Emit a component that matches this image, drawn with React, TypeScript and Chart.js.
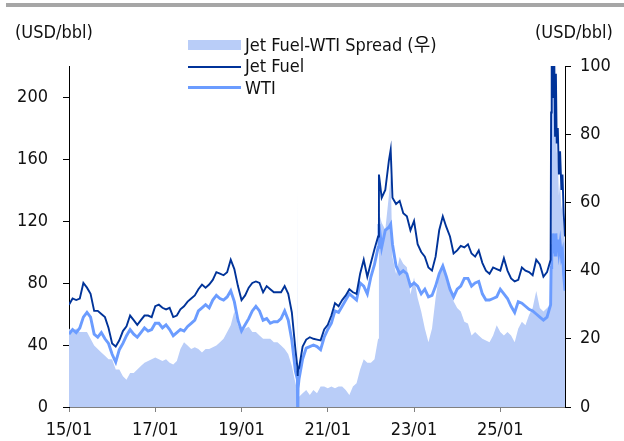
import React, { useEffect, useRef } from "react";
import { Chart, registerables } from "chart.js";

Chart.register(...registerables);

// ---- data ----
const dates: string[] = [
  "2015-01", "2015-02", "2015-03", "2015-04", "2015-05", "2015-06", "2015-07", "2015-08", "2015-09", "2015-10", "2015-11", "2015-12",
  "2016-01", "2016-02", "2016-03", "2016-04", "2016-05", "2016-06", "2016-07", "2016-08", "2016-09", "2016-10", "2016-11", "2016-12",
  "2017-01", "2017-02", "2017-03", "2017-04", "2017-05", "2017-06", "2017-07", "2017-08", "2017-09", "2017-10", "2017-11", "2017-12",
  "2018-01", "2018-02", "2018-03", "2018-04", "2018-05", "2018-06", "2018-07", "2018-08", "2018-09", "2018-10", "2018-11", "2018-12",
  "2019-01", "2019-02", "2019-03", "2019-04", "2019-05", "2019-06", "2019-07", "2019-08", "2019-09", "2019-10", "2019-11", "2019-12",
  "2020-01", "2020-02", "2020-03", "2020-04", "2020-04-17", "2020-04-20", "2020-04-23", "2020-05", "2020-06", "2020-07", "2020-08", "2020-09", "2020-10", "2020-11", "2020-12",
  "2021-01", "2021-02", "2021-03", "2021-04", "2021-05", "2021-06", "2021-07", "2021-08", "2021-09", "2021-10", "2021-11", "2021-12",
  "2022-01", "2022-02", "2022-03", "2022-03-08", "2022-04", "2022-05", "2022-06", "2022-06-16", "2022-07", "2022-08", "2022-09", "2022-10", "2022-11", "2022-12",
  "2023-01", "2023-02", "2023-03", "2023-04", "2023-05", "2023-06", "2023-07", "2023-08", "2023-09", "2023-10", "2023-11", "2023-12",
  "2024-01", "2024-02", "2024-03", "2024-04", "2024-05", "2024-06", "2024-07", "2024-08", "2024-09", "2024-10", "2024-11", "2024-12",
  "2025-01", "2025-02", "2025-03", "2025-04", "2025-05", "2025-06", "2025-07", "2025-08", "2025-09", "2025-10", "2025-11", "2025-12",
  "2026-01", "2026-02", "2026-03", "2026-03-05", "2026-03-10", "2026-03-15", "2026-03-20", "2026-03-25", "2026-04", "2026-04-08", "2026-04-15", "2026-04-22", "2026-05", "2026-05-10", "2026-05-20", "2026-06", "2026-06-10", "2026-06-20", "2026-07",
];

const jetFuel: number[] = [
  66, 70, 69, 70, 80, 77, 73, 62, 62, 60, 58, 51,
  41, 39, 43, 49, 52, 59, 56, 53, 56, 59, 59, 58,
  65, 66, 64, 63, 64, 58, 59, 63, 65, 68, 70, 72,
  76, 79, 77, 79, 82, 87, 86, 85, 87, 95, 89, 78,
  69, 72, 77, 80, 81, 80, 74, 78, 76, 74, 74, 74,
  78, 73, 61, 37, 26, 20, 24, 25, 39, 43.5, 45, 44, 43.5, 43, 50,
  53, 59, 67, 65, 69, 72, 76, 74, 73, 86, 95, 84,
  93, 102, 110, 150, 135, 140, 159, 166, 135, 131, 133, 125, 123, 114,
  120, 105, 100, 97, 90, 88, 97, 114, 123, 116, 110, 99,
  101, 104, 103, 105, 99, 97, 101, 93, 88, 86, 90, 89,
  88, 96, 88, 83, 81, 82, 90, 88, 87, 85, 95, 92,
  84, 87, 95, 190, 228, 200, 230, 205, 228, 175, 215, 170, 180, 150, 165, 140, 150, 125, 110,
];

const wti: number[] = [
  47, 50, 48, 51, 58, 61, 58, 47, 45, 48, 44, 41,
  34, 29, 37, 41, 46, 50, 47, 45, 48, 51, 49, 50,
  54, 54, 51, 53, 50, 46, 48, 50, 49, 52, 54, 56,
  62, 64, 66, 64, 69, 72, 70, 69, 71, 75, 68, 56,
  49, 53, 57, 62, 65, 62, 56, 57, 54, 55, 55, 57,
  62, 56, 43, 23, 18, -10, 12, 18, 31, 38, 39, 40, 39, 37, 45,
  50, 54, 62, 61, 65, 69, 73, 71, 69, 80, 78, 73,
  84, 92, 103, 118, 103, 114, 116, 118, 105, 91, 86, 88, 86, 78,
  80, 78, 73, 76, 71, 72, 78, 86, 91, 84, 76, 71,
  76, 78, 83, 83, 78, 80, 81, 73, 69, 69, 70, 71,
  76, 73, 70, 65, 61, 68, 67, 65, 63, 62, 60, 58,
  56, 58, 66, 90, 105, 100, 112, 100, 110, 98, 112, 100, 108, 100, 106, 97, 100, 85, 75,
];

const spread: number[] = [
  23, 22, 23, 22, 22, 22, 20, 18, 17, 16, 15, 14,
  14, 11, 11, 9, 8, 10, 10, 11, 12, 13, 13.5, 14,
  14.5, 14, 13.5, 14, 13, 12.5, 13.5, 17, 19, 18, 17, 17.5,
  17, 16, 17, 17, 17.5, 18, 19, 20, 22, 24, 28, 24,
  22, 23, 23.5, 22, 22, 21, 20, 20, 20, 19, 19, 18,
  17, 15.5, 12, 7, 5, 65, 5, 3, 4, 5, 3.5, 5, 4, 6, 6,
  5.5, 6, 5.5, 6, 6, 5, 3.5, 6, 7, 11, 14, 13,
  13, 14, 20, 57, 54, 52, 62, 68, 44, 39, 44, 42, 41, 33,
  38, 32, 28, 23, 19, 23, 32, 39, 42, 37, 35, 31,
  29, 28, 25, 24.5, 21, 22, 21, 20, 19.5, 19, 21, 24,
  22, 21, 22, 21, 19, 23, 25, 24, 27, 29, 34, 29,
  28, 29, 30, 85, 110, 105, 110, 105, 110, 95, 105, 75, 72, 62, 66, 58, 60, 52, 48,
];

const xTickLabels: string[] = ["15/01", "17/01", "19/01", "21/01", "23/01", "25/01"];
const xTickDates: string[] = ["2015-01", "2017-01", "2019-01", "2021-01", "2023-01", "2025-01"];
const leftTicks: number[] = [0, 40, 80, 120, 160, 200];
const rightTicks: number[] = [0, 20, 40, 60, 80, 100];
const lastDate = "2026-07";

const FONT = "'Liberation Sans Narrow', 'Arial Narrow', 'DejaVu Sans Condensed', 'Noto Sans CJK KR', sans-serif";
const JET_COLOR = "#003399";
const WTI_COLOR = "#6b9cff";
const SPREAD_COLOR = "#b9cdf8";

function toMonthIndex(d: string): number {
  const parts = d.split("-").map(Number);
  const y = parts[0];
  const m = parts[1];
  const day = parts[2];
  return (y - 2015) * 12 + (m - 1) + (day ? (day - 1) / 30 : 0);
}

export default function App() {
  const canvasRef = useRef<HTMLCanvasElement | null>(null);

  useEffect(() => {
    const canvas = canvasRef.current;
    if (!canvas) return;
    const xs = dates.map(toMonthIndex);
    const pts = (arr: number[]) => arr.map((v, i) => ({ x: xs[i], y: v }));
    const xTickVals = xTickDates.map(toMonthIndex);

    const chart = new Chart(canvas, {
      type: "line",
      data: {
        datasets: [
          {
            label: "Jet Fuel",
            data: pts(jetFuel),
            yAxisID: "y",
            borderColor: JET_COLOR,
            borderWidth: 1.9,
            pointRadius: 0,
            fill: false,
            tension: 0,
            order: 1,
          },
          {
            label: "WTI",
            data: pts(wti),
            yAxisID: "y",
            borderColor: WTI_COLOR,
            borderWidth: 2.9,
            pointRadius: 0,
            fill: false,
            tension: 0,
            order: 2,
          },
          {
            label: "Jet Fuel-WTI Spread (우)",
            data: pts(spread),
            yAxisID: "y1",
            borderColor: SPREAD_COLOR,
            backgroundColor: SPREAD_COLOR,
            borderWidth: 0,
            pointRadius: 0,
            fill: "origin",
            tension: 0,
            order: 3,
          },
        ],
      },
      options: {
        responsive: false,
        maintainAspectRatio: false,
        animation: false,
        devicePixelRatio: 1,
        layout: { padding: { top: 66, left: 0, right: 0, bottom: 0 } },
        plugins: { legend: { display: false }, tooltip: { enabled: false } },
        scales: {
          x: {
            type: "linear",
            position: "bottom",
            min: 0,
            max: toMonthIndex(lastDate),
            afterBuildTicks: (s: any) => {
              s.ticks = xTickVals.map((v) => ({ value: v }));
            },
            afterFit: (s: any) => {
              s.height = 34;
            },
            ticks: {
              autoSkip: false,
              maxRotation: 0,
              color: "#111",
              padding: 8,
              font: { family: FONT, size: 18 },
              callback: (v: any) => {
                const i = xTickVals.indexOf(Number(v));
                return i >= 0 ? xTickLabels[i] : "";
              },
            },
            grid: { drawOnChartArea: false, drawTicks: true, tickLength: 5, color: "#808080" },
            border: { display: true, color: "#808080", width: 1 },
          },
          y: {
            type: "linear",
            position: "left",
            min: 0,
            max: 220,
            afterBuildTicks: (s: any) => {
              s.ticks = leftTicks.map((v) => ({ value: v }));
            },
            afterFit: (s: any) => {
              s.width = 69;
            },
            ticks: { color: "#111", padding: 15, font: { family: FONT, size: 18 } },
            grid: { drawOnChartArea: false, drawTicks: true, tickLength: 6, color: "#000" },
            border: { display: true, color: "#000", width: 1 },
          },
          y1: {
            type: "linear",
            position: "right",
            min: 0,
            max: 100,
            afterBuildTicks: (s: any) => {
              s.ticks = rightTicks.map((v) => ({ value: v }));
            },
            afterFit: (s: any) => {
              s.width = 59;
            },
            ticks: { color: "#111", padding: 9, font: { family: FONT, size: 18 } },
            grid: { drawOnChartArea: false, drawTicks: true, tickLength: 6, color: "#000" },
            border: { display: true, color: "#000", width: 1 },
          },
        },
      },
    } as any);

    return () => chart.destroy();
  }, []);

  const textStyle: React.CSSProperties = {
    position: "absolute",
    fontFamily: FONT,
    fontSize: 18,
    lineHeight: "18px",
    color: "#111",
    whiteSpace: "nowrap",
  };

  return (
    <div style={{ position: "fixed", left: 0, top: 0, width: 624, height: 441, background: "#fff", overflow: "hidden" }}>
      <div style={{ position: "absolute", left: 6, top: 3, width: 618, height: 4, background: "#a6a6a6" }} />
      <canvas ref={canvasRef} width={624} height={441} style={{ position: "absolute", left: 0, top: 0, width: 624, height: 441 }} />
      <div style={{ ...textStyle, left: 15, top: 23 }}>(USD/bbl)</div>
      <div style={{ ...textStyle, left: 535, top: 23 }}>(USD/bbl)</div>
      <div style={{ position: "absolute", left: 188, top: 40, width: 53, height: 10, background: SPREAD_COLOR }} />
      <div style={{ ...textStyle, left: 245, top: 36 }}>Jet Fuel-WTI Spread (우)</div>
      <div style={{ position: "absolute", left: 188, top: 66, width: 53, height: 2, background: JET_COLOR }} />
      <div style={{ ...textStyle, left: 245, top: 57 }}>Jet Fuel</div>
      <div style={{ position: "absolute", left: 188, top: 86, width: 53, height: 3, background: WTI_COLOR }} />
      <div style={{ ...textStyle, left: 245, top: 79 }}>WTI</div>
    </div>
  );
}
